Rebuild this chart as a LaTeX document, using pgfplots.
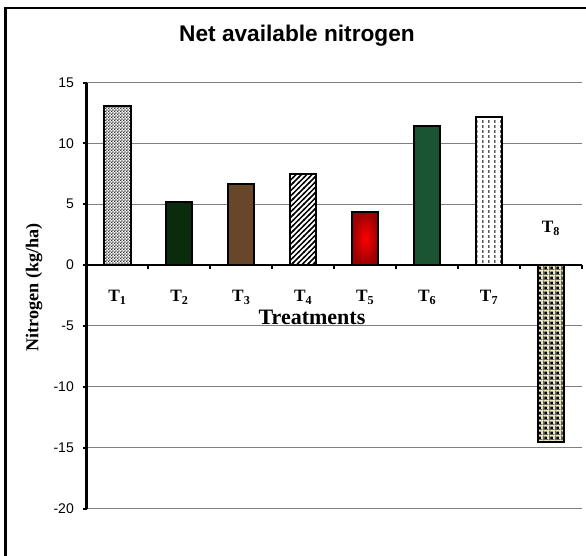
\documentclass[border=0pt]{standalone}
\usepackage{pgfplots}
\pgfplotsset{compat=1.18}
\usepackage{fontspec}
\setmainfont{Liberation Sans}
\newfontfamily\timesfont{Liberation Serif}
\usetikzlibrary{patterns}

% fine checkerboard (T1)
\pgfdeclarepatternformonly{finechecker}{\pgfpointorigin}{\pgfqpoint{2.4pt}{2.4pt}}{\pgfqpoint{2.4pt}{2.4pt}}{%
  \pgfpathrectangle{\pgfqpoint{0pt}{0pt}}{\pgfqpoint{1.2pt}{1.2pt}}%
  \pgfpathrectangle{\pgfqpoint{1.2pt}{1.2pt}}{\pgfqpoint{1.2pt}{1.2pt}}\pgfusepath{fill}}
% diagonal stripes (T4)
\pgfdeclarepatternformonly{diagstripes}{\pgfqpoint{-1pt}{-1pt}}{\pgfqpoint{5pt}{5pt}}{\pgfqpoint{4pt}{4pt}}{%
  \pgfsetlinewidth{1.1pt}%
  \pgfpathmoveto{\pgfqpoint{-0.5pt}{-0.5pt}}\pgfpathlineto{\pgfqpoint{4.5pt}{4.5pt}}\pgfusepath{stroke}}
% small vertical dashes (T7)
\pgfdeclarepatternformonly{vdashes}{\pgfpointorigin}{\pgfqpoint{4.5pt}{3.6pt}}{\pgfqpoint{4.5pt}{3.6pt}}{%
  \pgfpathrectangle{\pgfqpoint{2pt}{0pt}}{\pgfqpoint{0.8pt}{2.3pt}}\pgfusepath{fill}}
% black squares (T8)
\pgfdeclarepatternformonly{squaredots}{\pgfpointorigin}{\pgfqpoint{4.2pt}{3.8pt}}{\pgfqpoint{4.2pt}{3.8pt}}{%
  \pgfpathrectangle{\pgfqpoint{1.1pt}{0.9pt}}{\pgfqpoint{2pt}{2pt}}\pgfusepath{fill}}
% thin grid lines (T8)
\pgfdeclarepatternformonly{thingrid}{\pgfpointorigin}{\pgfqpoint{4.2pt}{3.8pt}}{\pgfqpoint{4.2pt}{3.8pt}}{%
  \pgfpathrectangle{\pgfqpoint{0pt}{0pt}}{\pgfqpoint{4.2pt}{0.8pt}}%
  \pgfpathrectangle{\pgfqpoint{0pt}{0pt}}{\pgfqpoint{0.8pt}{3.8pt}}\pgfusepath{fill}}

\definecolor{darkgreen}{RGB}{10,44,12}
\definecolor{soilbrown}{RGB}{104,70,42}
\definecolor{marble}{RGB}{26,84,48}
\definecolor{beige}{RGB}{236,230,190}

\begin{document}
\begin{tikzpicture}
\useasboundingbox (0,0) rectangle (439.5pt,417pt);
\draw[line width=1.6pt] (4.1pt,-5pt) -- (4.1pt,411pt) -- (450pt,411pt);
\node[font=\fontsize{17}{20}\selectfont\bfseries, anchor=base] at (222.75pt,385.5pt) {Net available nitrogen};
\node[font=\timesfont\fontsize{13.6}{15}\selectfont\bfseries, rotate=90] at (25.5pt,201.4pt) {Nitrogen (kg/ha)};
\begin{axis}[
    at={(64.9pt,35.6pt)}, anchor=south west,
    scale only axis, width=371.6pt, height=319.5pt,
    xmin=0.5, xmax=8.5, ymin=-20, ymax=15,
    axis x line=middle, axis y line=left,
    axis line style={-, line width=2pt},
    x axis line style={line width=2pt},
    y axis line style={line width=2pt},
    xtick={1.5,2.5,...,8.5}, xticklabels={},
    ytick={-20,-15,...,15},
    tick align=outside,
    major tick length=3pt,
    tick style={black, line width=1.5pt},
    ymajorgrids,
    major grid style={black!50, line width=0.75pt},
    yticklabel style={font=\fontsize{10.5}{12}\selectfont, xshift=-3pt},
    /pgf/number format/assume math mode=true,
    ybar, bar width=0.42, bar shift=0pt,
    clip=false,
]
\addplot[draw=black, line width=1.5pt, fill=white, postaction={pattern=finechecker, pattern color=black!80}] coordinates {(1,13.1)};
\addplot[draw=black, line width=1.5pt, fill=darkgreen] coordinates {(2,5.2)};
\addplot[draw=black, line width=1.5pt, fill=soilbrown] coordinates {(3,6.7)};
\addplot[draw=black, line width=1.5pt, fill=white, postaction={pattern=diagstripes, pattern color=black}] coordinates {(4,7.5)};
\addplot[draw=black, line width=1.5pt, inner color=red, outer color=red!60!black] coordinates {(5,4.4)};
\addplot[draw=black, line width=1.5pt, fill=marble] coordinates {(6,11.4)};
\addplot[draw=black, line width=1.5pt, fill=white, postaction={pattern=vdashes, pattern color=black}] coordinates {(7,12.2)};
\addplot[draw=black, line width=1.5pt, fill=beige, postaction={pattern=thingrid, pattern color=black!60}, postaction={pattern=squaredots, pattern color=black}] coordinates {(8,-14.5)};

\pgfplotsinvokeforeach{1,...,7}{
  \node[font=\timesfont\fontsize{13}{15}\selectfont\bfseries, anchor=base] at (axis cs:#1,-3.0) {T\textsubscript{#1}};
}
\node[font=\timesfont\fontsize{13}{15}\selectfont\bfseries, anchor=base] at (axis cs:8,2.65) {T\textsubscript{8}};
\node[font=\timesfont\fontsize{16.5}{18}\selectfont\bfseries, anchor=base] at (axis cs:4.14,-4.85) {Treatments};
\end{axis}
\end{tikzpicture}
\end{document}
